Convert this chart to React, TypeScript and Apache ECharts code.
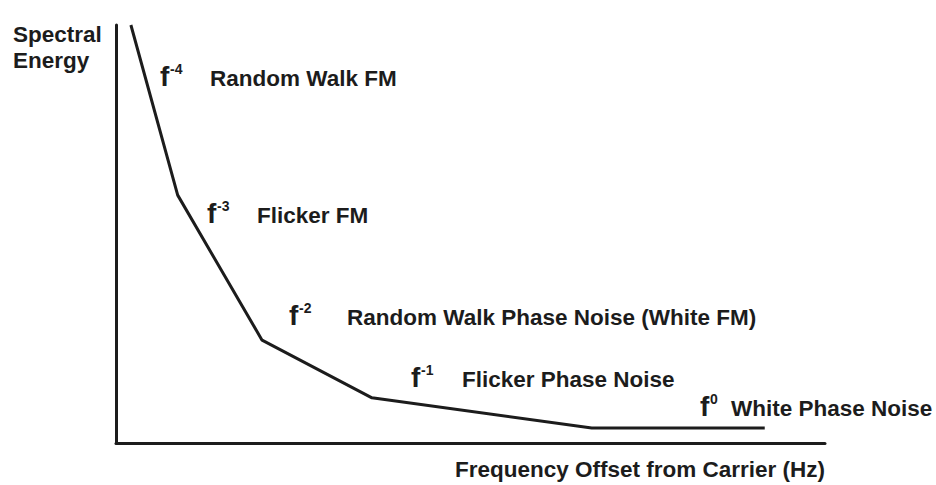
import React, { useEffect, useRef } from "react";
import * as echarts from "echarts";

// Piecewise power-law noise curve (arbitrary units, 0-100 on both axes)
const freqOffset = [2.1, 8.7, 20.6, 36.1, 67.1, 91.5];
const spectralEnergy = [100, 59.3, 24.6, 10.8, 3.6, 3.6];

const exponents = ["-4", "-3", "-2", "-1", "0"];
const noiseNames = [
  "Random Walk FM",
  "Flicker FM",
  "Random Walk Phase Noise (White FM)",
  "Flicker Phase Noise",
  "White Phase Noise",
];
const xTitle = "Frequency Offset from Carrier (Hz)";
const yTitleLines = ["Spectral", "Energy"];

// label layout: f-glyph left x, label text left x, baseline y
const labelLayout = [
  { fx: 160, tx: 210, by: 86 },
  { fx: 207, tx: 257, by: 223 },
  { fx: 289, tx: 347, by: 325 },
  { fx: 411, tx: 462, by: 387 },
  { fx: 700, tx: 731, by: 416 },
];

const FONT = "'Liberation Sans', Arial, Helvetica, sans-serif";
const INK = "#1c1c1c";
const TS = 22.5;

export default function App() {
  const ref = useRef<HTMLDivElement>(null);
  useEffect(() => {
    if (!ref.current) return;
    const chart = echarts.init(ref.current, null, { renderer: "svg" });
    const mid = (baseline: number, size: number) => baseline - 0.35 * size;
    const graphics: any[] = [];
    yTitleLines.forEach((t, i) => {
      graphics.push({
        type: "text",
        x: 13,
        y: mid(42 + i * 26, TS),
        style: { text: t, fontSize: TS, fontWeight: "bold", fontFamily: FONT, fill: INK, verticalAlign: "middle" },
      });
    });
    graphics.push({
      type: "text",
      x: 825,
      y: mid(477, TS),
      style: { text: xTitle, fontSize: TS, fontWeight: "bold", fontFamily: FONT, fill: INK, align: "right", verticalAlign: "middle" },
    });
    labelLayout.forEach((l, i) => {
      graphics.push({
        type: "text",
        x: l.fx,
        y: mid(l.by, 28),
        style: { text: "f", fontSize: 28, fontWeight: "bold", fontFamily: FONT, fill: INK, verticalAlign: "middle" },
      });
      graphics.push({
        type: "text",
        x: l.fx + 10,
        y: l.by - 24,
        style: { text: exponents[i], fontSize: 14, fontWeight: "bold", fontFamily: FONT, fill: INK, verticalAlign: "top" },
      });
      graphics.push({
        type: "text",
        x: l.tx,
        y: mid(l.by, TS),
        style: { text: noiseNames[i], fontSize: TS, fontWeight: "bold", fontFamily: FONT, fill: INK, verticalAlign: "middle" },
      });
    });
    chart.setOption({
      animation: false,
      backgroundColor: "#ffffff",
      grid: { left: 116, right: 111, top: 25, bottom: 42 },
      xAxis: {
        type: "value",
        min: 0,
        max: 100,
        axisLine: { show: true, lineStyle: { color: INK, width: 3 } },
        axisTick: { show: false },
        axisLabel: { show: false },
        splitLine: { show: false },
      },
      yAxis: {
        type: "value",
        min: 0,
        max: 100,
        axisLine: { show: true, lineStyle: { color: INK, width: 3 } },
        axisTick: { show: false },
        axisLabel: { show: false },
        splitLine: { show: false },
      },
      series: [
        {
          type: "line",
          data: freqOffset.map((x, i) => [x, spectralEnergy[i]]),
          symbol: "none",
          lineStyle: { color: INK, width: 3 },
          clip: false,
        },
      ],
      graphic: graphics,
    });
    return () => chart.dispose();
  }, []);
  return <div ref={ref} style={{ width: 936, height: 485, position: "absolute", left: 0, top: 0 }} />;
}
